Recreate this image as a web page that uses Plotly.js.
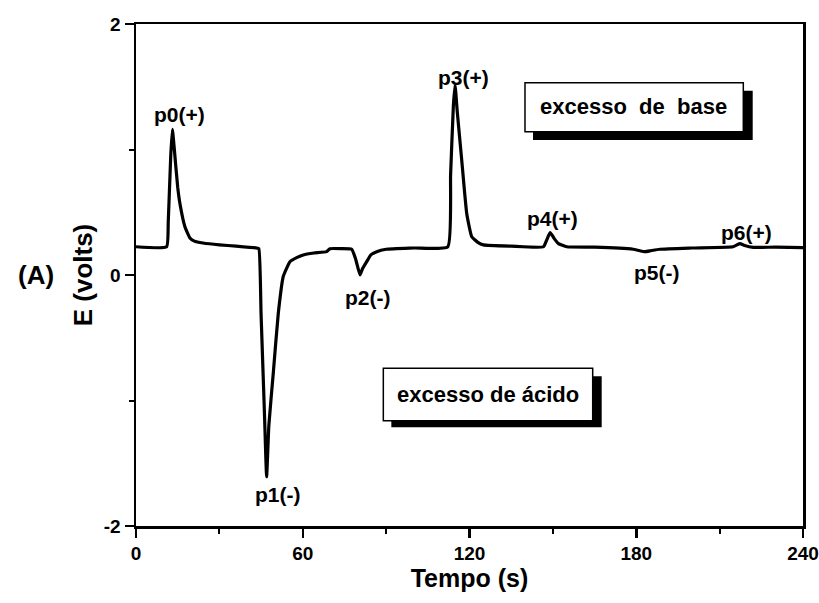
<!DOCTYPE html>
<html>
<head>
<meta charset="utf-8">
<script src="https://cdn.plot.ly/plotly-3.0.1.min.js"></script>
<style>html,body{margin:0;padding:0;background:#fff}#chart{width:819px;height:603px}</style>
</head>
<body>
<div id="chart"></div>
<script>
// Time (s) and potential E (V)
const tempo = [0, 11.0, 11.6, 12.5, 13.1, 13.8, 15.0, 15.8, 17.6, 19.4, 21.0, 24.1, 30, 36, 43.4,
  44.2, 45.0, 46.2, 47.0, 47.8, 49.4, 51.2, 53.0, 55.4, 58.0, 60.2, 64.0, 68.6, 69.8, 74.0,
  77.6, 79.0, 80.6, 81.5, 83.0, 84.5, 86.6, 90, 100, 112.2, 113.2, 114.2, 114.8, 115.6, 117.2,
  119.0, 120.8, 123, 125, 135, 146.6, 147.8, 149.0, 150.5, 152, 155, 165, 178.9, 181, 183.1,
  185.5, 188.5, 200, 214.8, 216.2, 217.3, 219, 222.1, 230, 240];
const potencial = [0.225, 0.225, 0.42, 0.95, 1.16, 1.0, 0.7, 0.57, 0.385, 0.295, 0.27, 0.255, 0.24, 0.23, 0.215,
  0.21, -0.31, -1.09, -1.607, -1.2, -0.78, -0.305, -0.01, 0.106, 0.14, 0.16, 0.175, 0.186, 0.21, 0.21,
  0.205, 0.13, 0.0, 0.05, 0.106, 0.16, 0.186, 0.205, 0.215, 0.225, 0.8, 1.35, 1.514, 1.3, 0.916,
  0.49, 0.305, 0.26, 0.24, 0.23, 0.225, 0.28, 0.337, 0.29, 0.25, 0.225, 0.222, 0.205, 0.195, 0.186,
  0.195, 0.205, 0.215, 0.225, 0.24, 0.25, 0.235, 0.22, 0.222, 0.218];

// Peak labels and their positions (data coordinates)
const peakLabels = ['p0(+)', 'p1(-)', 'p2(-)', 'p3(+)', 'p4(+)', 'p5(-)', 'p6(+)'];
const peakLabelX = [15.8, 51.1, 83.5, 118.0, 150.0, 187.5, 219.8];
const peakLabelY = [1.275, -1.75, -0.18, 1.57, 0.454, 0.016, 0.34];

const xTicks = [0, 60, 120, 180, 240];
const yTicks = [-2, 0, 2];

const FONT = '"Liberation Sans", Arial, sans-serif';

const trace = {
  x: tempo, y: potencial, type: 'scatter', mode: 'lines',
  line: {color: '#000', width: 3.2, shape: 'spline', smoothing: 0.4},
  hoverinfo: 'skip', showlegend: false
};

const annotations = peakLabels.map((t, i) => ({
  x: peakLabelX[i], y: peakLabelY[i], xref: 'x', yref: 'y', text: '<b>' + t + '</b>', showarrow: false,
  xanchor: 'center', yanchor: 'middle',
  font: {family: FONT, size: 21, color: '#000'}
}));

annotations.push(
  {x: 0.7466, y: 0.835, xref: 'paper', yref: 'paper', text: '<b>excesso  de  base</b>', showarrow: false,
   xanchor: 'center', yanchor: 'middle',
   font: {family: FONT, size: 22, color: '#000'}},
  {x: 0.5277, y: 0.261, xref: 'paper', yref: 'paper', text: '<b>excesso de ácido</b>', showarrow: false,
   xanchor: 'center', yanchor: 'middle',
   font: {family: FONT, size: 22, color: '#000'}},
  {x: -0.15, y: 0.5, xref: 'paper', yref: 'paper', text: '<b>(A)</b>', showarrow: false,
   xanchor: 'center', yanchor: 'middle',
   font: {family: FONT, size: 26, color: '#000'}}
);

const shapes = [
  {type: 'rect', xref: 'paper', yref: 'paper', x0: 0.5952, x1: 0.9246, y0: 0.7689, y1: 0.8671,
   fillcolor: '#000', line: {width: 0}},
  {type: 'rect', xref: 'paper', yref: 'paper', x0: 0.5832, x1: 0.9105, y0: 0.7855, y1: 0.8831,
   fillcolor: '#fff', line: {color: '#000', width: 1.5}},
  {type: 'rect', xref: 'paper', yref: 'paper', x0: 0.3828, x1: 0.6982, y0: 0.1966, y1: 0.2982,
   fillcolor: '#000', line: {width: 0}},
  {type: 'rect', xref: 'paper', yref: 'paper', x0: 0.3708, x1: 0.6847, y0: 0.2098, y1: 0.3141,
   fillcolor: '#fff', line: {color: '#000', width: 1.5}}
];

const tickFont = {family: FONT, size: 19, color: '#000', weight: 'bold'};

const layout = {
  width: 819, height: 603,
  margin: {l: 136, r: 16, t: 24, b: 77},
  paper_bgcolor: '#fff', plot_bgcolor: '#fff',
  font: {family: FONT, color: '#000', size: 19, weight: 'bold'},
  xaxis: {
    range: [0, 240], tickmode: 'array', tickvals: xTicks, ticktext: xTicks.map(String),
    ticks: 'outside', ticklen: 9, tickwidth: 2.5, tickcolor: '#000',
    ticklabeloverflow: 'allow',
    showline: true, linewidth: 2.5, linecolor: '#000', mirror: true,
    showgrid: false, zeroline: false,
    minor: {dtick: 30, tick0: 0, ticks: 'outside', ticklen: 5, tickwidth: 2, tickcolor: '#000', showgrid: false},
    tickfont: tickFont,
    title: {text: '<b>Tempo (s)</b>', font: {family: FONT, size: 25}, standoff: 3}
  },
  yaxis: {
    range: [-2, 2], tickmode: 'array', tickvals: yTicks, ticktext: yTicks.map(String),
    ticks: 'outside', ticklen: 9, tickwidth: 2.5, tickcolor: '#000',
    showline: true, linewidth: 2.5, linecolor: '#000', mirror: true,
    showgrid: false, zeroline: false,
    minor: {dtick: 1, tick0: 0, ticks: 'outside', ticklen: 5, tickwidth: 2, tickcolor: '#000', showgrid: false},
    tickfont: tickFont,
    title: {text: '<b>E (volts)</b>', font: {family: FONT, size: 26}, standoff: 4}
  },
  shapes: shapes,
  annotations: annotations
};

Plotly.newPlot('chart', [trace], layout, {displayModeBar: false, staticPlot: true});
</script>
</body>
</html>
